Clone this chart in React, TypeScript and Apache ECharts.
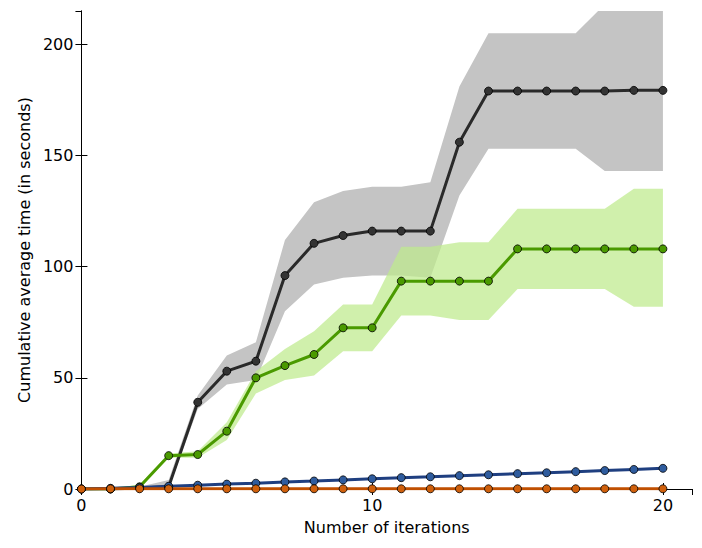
import React, { useEffect, useRef } from 'react';
import * as echarts from 'echarts';

const iterations = [0, 1, 2, 3, 4, 5, 6, 7, 8, 9, 10, 11, 12, 13, 14, 15, 16, 17, 18, 19, 20];

const blackMean = [0, 0, 0.5, 1, 39, 53, 57.5, 96, 110.5, 114, 116, 116, 116, 156, 179, 179, 179, 179, 179, 179.3, 179.3];
const blackUpper = [0, 0, 1, 4, 42, 60, 66, 112, 129, 134, 136, 136, 138, 181, 205, 205, 205, 205, 218, 222, 222];
const blackLower = [0, 0, 0, 0, 36, 47, 49, 80, 92, 95, 96, 96, 95, 132, 153, 153, 153, 153, 143, 143, 143];

const greenMean = [0, 0, 1, 15, 15.5, 26, 50, 55.5, 60.5, 72.5, 72.5, 93.5, 93.5, 93.5, 93.5, 108, 108, 108, 108, 108, 108];
const greenUpper = [0, 0, 2, 16, 17, 30, 53, 63, 71, 83, 83, 109, 109, 111, 111, 126, 126, 126, 126, 135, 135];
const greenLower = [0, 0, 0, 14, 14, 22, 43, 49, 51, 62, 62, 78, 78, 76, 76, 90, 90, 90, 90, 82, 82];

const blueMean = [0, 0.3, 0.7, 1.2, 1.7, 2.2, 2.6, 3.2, 3.6, 4.1, 4.6, 5.1, 5.5, 6, 6.4, 6.9, 7.3, 7.8, 8.3, 8.8, 9.3];
const orangeMean = [0, 0.1, 0.1, 0.1, 0.1, 0.1, 0.1, 0.1, 0.1, 0.1, 0.1, 0.1, 0.1, 0.1, 0.1, 0.1, 0.1, 0.1, 0.1, 0.1, 0.1];

const pairs = (ys: number[]) => iterations.map((x, i) => [x, ys[i]]);

// fill between lower and upper as one polygon
const band = (lower: number[], upper: number[], color: string) => ({
  type: 'custom',
  silent: true,
  clip: true,
  data: [[0, 0]],
  renderItem: (_params: any, api: any) => {
    const top = iterations.map((x, i) => api.coord([x, upper[i]]));
    const bottom = iterations.map((x, i) => api.coord([x, lower[i]])).reverse();
    return { type: 'polygon', shape: { points: [...top, ...bottom] }, style: { fill: color } };
  },
});

const meanLine = (data: number[], line: string, fill: string) => ({
  type: 'line', data: pairs(data), symbol: 'circle', symbolSize: 8,
  lineStyle: { color: line, width: 3 },
  itemStyle: { color: fill, borderColor: '#000', borderWidth: 0.8 },
});

const App: React.FC = () => {
  const chartRef = useRef<HTMLDivElement>(null);

  useEffect(() => {
    if (!chartRef.current) return;
    const chart = echarts.init(chartRef.current, undefined, { renderer: 'svg' });

    const font = { fontFamily: 'DejaVu Sans', fontSize: 16, color: '#000' };
    const tick = { inside: true, length: 6, lineStyle: { color: '#000' } };
    const label = { ...font, margin: 8, showMaxLabel: false };

    chart.setOption({
      animation: false,
      grid: { left: 64, right: 2, top: 3, bottom: 51 },
      xAxis: [
        {
          type: 'value', min: 0, max: 21, interval: 10,
          name: 'Number of iterations', nameLocation: 'middle', nameGap: 30,
          nameTextStyle: font, axisLabel: label,
          axisLine: { lineStyle: { color: '#000' } }, axisTick: tick, splitLine: { show: false },
        },
        {
          type: 'value', position: 'top', min: 0, max: 21, interval: 10,
          axisLabel: { show: false }, axisLine: { lineStyle: { color: '#000' } },
          axisTick: tick, splitLine: { show: false },
        },
      ],
      yAxis: [
        {
          type: 'value', min: 0, max: 215, interval: 50,
          name: 'Cumulative average time (in seconds)', nameLocation: 'middle', nameGap: 46,
          nameTextStyle: font, axisLabel: label,
          axisLine: { show: true, lineStyle: { color: '#000' } }, axisTick: tick, splitLine: { show: false },
        },
        {
          type: 'value', position: 'right', min: 0, max: 215, interval: 50,
          axisLabel: { show: false }, axisLine: { show: true, lineStyle: { color: '#000' } },
          axisTick: tick, splitLine: { show: false },
        },
      ],
      series: [
        band(blackLower, blackUpper, '#c4c4c4'),
        band(greenLower, greenUpper, 'rgba(190,234,140,0.72)'),
        meanLine(blackMean, '#2a2a2a', '#333333'),
        meanLine(greenMean, '#4a9a00', '#4a9a00'),
        meanLine(blueMean, '#1f3f80', '#2f5c9e'),
        meanLine(orangeMean, '#c04f00', '#d0600c'),
      ],
    });

    return () => {
      chart.dispose();
    };
  }, []);

  return <div ref={chartRef} style={{ width: 686, height: 532 }} />;
};

export default App;
